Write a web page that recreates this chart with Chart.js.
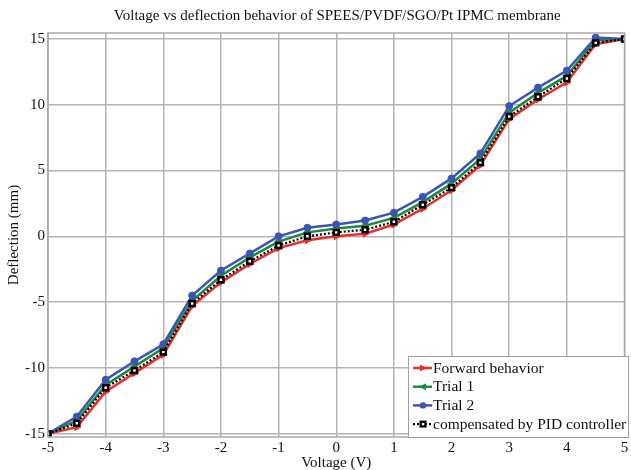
<!DOCTYPE html>
<html><head><meta charset="utf-8">
<script src="https://cdn.jsdelivr.net/npm/chart.js@4/dist/chart.umd.min.js"></script>
<style>html,body{margin:0;padding:0;background:#fff}#c{display:block}</style>
</head><body>
<canvas id="c" width="631" height="470"></canvas>
<script>
const voltage = [-5,-4.5,-4,-3.5,-3,-2.5,-2,-1.5,-1,-0.5,0,0.5,1,1.5,2,2.5,3,3.5,4,4.5,5];
const forward = [-15,-14.5,-11.8,-10.4,-9.0,-5.3,-3.5,-2.1,-0.9,-0.3,0.0,0.2,0.9,2.1,3.5,5.4,8.9,10.4,11.7,14.6,15];
const trial1  = [-15,-14.0,-11.3,-9.9,-8.5,-4.9,-3.0,-1.6,-0.4,0.3,0.6,0.8,1.4,2.6,4.0,5.9,9.4,10.9,12.2,14.9,15];
const trial2  = [-15,-13.7,-10.9,-9.5,-8.2,-4.5,-2.6,-1.3,0.0,0.65,0.9,1.2,1.8,3.0,4.4,6.3,9.9,11.3,12.6,15.1,15];
const pid     = [-15,-14.2,-11.5,-10.2,-8.8,-5.1,-3.3,-1.9,-0.7,0.0,0.3,0.5,1.1,2.4,3.7,5.6,9.1,10.6,12.0,14.7,15];
const xTicks = [-5,-4,-3,-2,-1,0,1,2,3,4,5];
const yTicks = [-15,-10,-5,0,5,10,15];
const seriesNames = ['Forward behavior','Trial 1','Trial 2','compensated by PID controller'];

const FONT = '"Liberation Serif", "Times New Roman", serif';
const RED='#e8302a', GREEN='#1b8a3e', BLUE='#3b55b2', BLACK='#000';

function pts(arr){ return voltage.map((v,i)=>({x:v,y:arr[i]})); }

const frameAndLegend = {
  id:'frameAndLegend',
  afterDraw(chart){
    const ctx = chart.ctx, a = chart.chartArea;
    ctx.save();
    ctx.strokeStyle = '#a8a8a8'; ctx.lineWidth = 1.5;
    ctx.strokeRect(a.left, a.top, a.right-a.left, a.bottom-a.top);
    // title
    ctx.fillStyle = '#111';
    ctx.font = '15px ' + FONT;
    ctx.textAlign = 'center'; ctx.textBaseline = 'middle';
    ctx.fillText('Voltage vs deflection behavior of SPEES/PVDF/SGO/Pt IPMC membrane', (a.left+a.right)/2 + 1, 16);
    // legend
    const lx = 408, ly = 356, lw = 220, lh = 81;
    ctx.fillStyle = '#fff'; ctx.fillRect(lx, ly, lw, lh);
    ctx.strokeStyle = '#a0a0a0'; ctx.lineWidth = 1; ctx.strokeRect(lx+0.5, ly+0.5, lw, lh);
    ctx.font = '15.5px ' + FONT; ctx.textAlign = 'left';
    chart.data.datasets.forEach((ds, i) => {
      const y = ly + 12 + i*18.7;
      ctx.strokeStyle = ds.borderColor; ctx.lineWidth = ds.borderWidth;
      ctx.setLineDash(ds.borderDash || []);
      ctx.beginPath(); ctx.moveTo(lx+5, y); ctx.lineTo(lx+24, y); ctx.stroke();
      ctx.setLineDash([]);
      ctx.fillStyle = '#111';
      ctx.fillText(ds.label, lx+25, y+0.5);
      // marker
      const mx = lx+15;
      ctx.fillStyle = ds.pointBackgroundColor; ctx.strokeStyle = ds.pointBorderColor;
      ctx.lineWidth = 1.5;
      if (i===0) { ctx.beginPath(); ctx.moveTo(mx+4,y); ctx.lineTo(mx-3,y-3.5); ctx.lineTo(mx-3,y+3.5); ctx.closePath(); ctx.fill(); }
      else if (i===1) { ctx.beginPath(); ctx.moveTo(mx-4,y); ctx.lineTo(mx+3,y-3.5); ctx.lineTo(mx+3,y+3.5); ctx.closePath(); ctx.fill(); }
      else if (i===2) { ctx.beginPath(); ctx.arc(mx,y,3.2,0,Math.PI*2); ctx.fill(); }
      else { ctx.fillStyle='#000'; ctx.fillRect(mx-3.5,y-3.5,7,7); ctx.fillStyle='#fff'; ctx.fillRect(mx-1.2,y-1.2,2.4,2.4); }
    });
    ctx.restore();
  }
};

new Chart(document.getElementById('c'), {
  type:'line',
  data:{ datasets:[
    {label:seriesNames[0], data:pts(forward), borderColor:RED, backgroundColor:RED, pointBackgroundColor:RED, pointBorderColor:RED,
     borderWidth:2.5, pointStyle:'triangle', rotation:90, pointRadius:4, pointBorderWidth:1, order:3},
    {label:seriesNames[1], data:pts(trial1), borderColor:GREEN, backgroundColor:GREEN, pointBackgroundColor:GREEN, pointBorderColor:GREEN,
     borderWidth:2.5, pointStyle:'triangle', rotation:-90, pointRadius:4, pointBorderWidth:1, order:2},
    {label:seriesNames[2], data:pts(trial2), borderColor:BLUE, backgroundColor:BLUE, pointBackgroundColor:BLUE, pointBorderColor:BLUE,
     borderWidth:2.5, pointStyle:'circle', pointRadius:3.5, pointBorderWidth:1, order:1},
    {label:seriesNames[3], data:pts(pid), borderColor:BLACK, backgroundColor:'#fff', pointBackgroundColor:'#fff', pointBorderColor:BLACK,
     borderWidth:2.2, borderDash:[2,2], pointStyle:'rect', pointRadius:3.5, pointBorderWidth:2.5, order:0}
  ]},
  options:{
    responsive:false, animation:false,
    layout:{padding:{top:33, right:2, left:0, bottom:0}},
    plugins:{legend:{display:false}, title:{display:false}, tooltip:{enabled:false}},
    scales:{
      x:{type:'linear', min:-5, max:5,
         afterBuildTicks(s){ s.ticks = xTicks.map(v=>({value:v})); },
         afterFit(s){ s.height = 33; },
         grid:{color:'#b4b4b4', lineWidth:1.5, tickLength:0, drawTicks:false},
         border:{display:false},
         ticks:{color:'#111', font:{family:FONT, size:15}, padding:2, maxRotation:0, autoSkip:false},
         title:{display:true, text:'Voltage (V)', color:'#111', font:{family:FONT, size:15}, padding:{top:0,bottom:-2}}
      },
      y:{type:'linear', min:-15.25, max:15.45,
         afterBuildTicks(s){ s.ticks = yTicks.map(v=>({value:v})); },
         afterFit(s){ s.width = 48; },
         grid:{color:'#b4b4b4', lineWidth:1.5, tickLength:0, drawTicks:false},
         border:{display:false},
         ticks:{color:'#111', font:{family:FONT, size:15}, padding:3, autoSkip:false},
         title:{display:true, text:'Deflection (mm)', color:'#111', font:{family:FONT, size:15}, padding:{top:5,bottom:0}}
      }
    }
  },
  plugins:[frameAndLegend]
});
</script>
</body></html>
